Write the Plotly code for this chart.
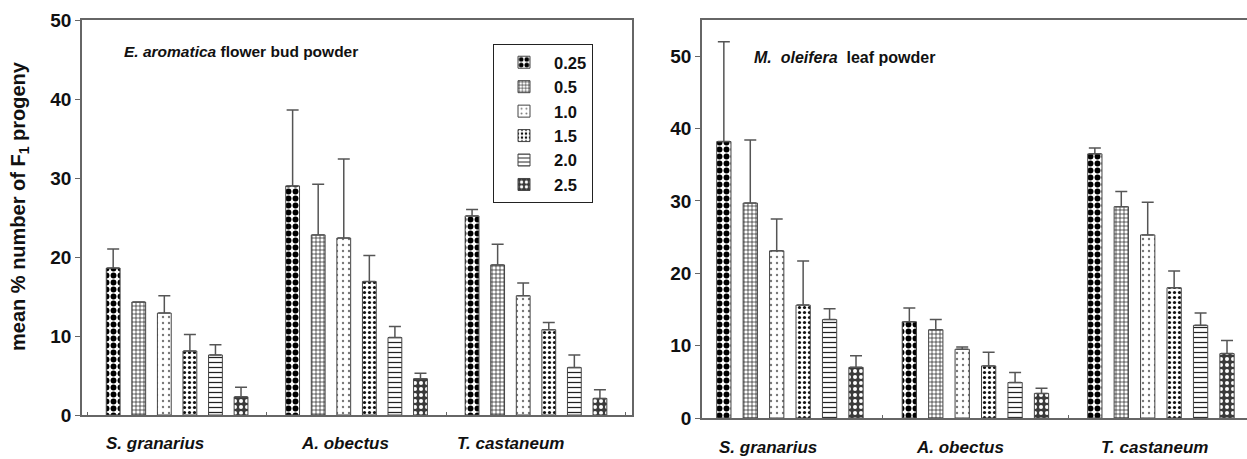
import plotly.graph_objects as go

W, H = 1247, 459

categories = ["S. granarius", "A. obectus", "T. castaneum"]
concentrations = ["0.25", "0.5", "1.0", "1.5", "2.0", "2.5"]

# E. aromatica flower bud powder (left panel): mean and upper error per concentration
ea_sgran_mean = [18.6, 14.3, 12.9, 8.1, 7.6, 2.3]
ea_sgran_err = [2.4, 0.0, 2.2, 2.1, 1.3, 1.2]
ea_aob_mean = [29.0, 22.8, 22.4, 16.9, 9.8, 4.6]
ea_aob_err = [9.6, 6.4, 10.0, 3.3, 1.4, 0.7]
ea_tcast_mean = [25.2, 19.0, 15.1, 10.8, 6.0, 2.1]
ea_tcast_err = [0.8, 2.6, 1.6, 0.9, 1.6, 1.1]

# M. oleifera leaf powder (right panel)
mo_sgran_mean = [38.2, 29.7, 23.1, 15.6, 13.6, 7.0]
mo_sgran_err = [13.8, 8.7, 4.4, 6.1, 1.5, 1.6]
mo_aob_mean = [13.3, 12.2, 9.5, 7.2, 4.9, 3.4]
mo_aob_err = [1.9, 1.4, 0.3, 1.9, 1.4, 0.7]
mo_tcast_mean = [36.5, 29.2, 25.3, 18.0, 12.8, 8.9]
mo_tcast_err = [0.8, 2.1, 4.5, 2.3, 1.7, 1.8]

left_ticks = [0, 10, 20, 30, 40, 50]
right_ticks = [0, 10, 20, 30, 40, 50]

patterns = [
    dict(shape=".", fgcolor="black", bgcolor="white", size=7, solidity=0.55, fillmode="replace"),
    dict(shape="+", fgcolor="#111", bgcolor="white", size=4, solidity=0.3, fillmode="replace"),
    dict(shape=".", fgcolor="#777", bgcolor="white", size=6, solidity=0.12, fillmode="replace"),
    dict(shape=".", fgcolor="#111", bgcolor="white", size=5, solidity=0.32, fillmode="replace"),
    dict(shape="-", fgcolor="#222", bgcolor="white", size=5, solidity=0.25, fillmode="replace"),
    dict(shape=".", fgcolor="white", bgcolor="#3a3a3a", size=6, solidity=0.35, fillmode="replace"),
]

FONT = "Liberation Sans, Arial, sans-serif"
AXC = "#666"
TXT = "#111"

fig = go.Figure()

panels = [
    ("x", "y", (ea_sgran_mean, ea_aob_mean, ea_tcast_mean), (ea_sgran_err, ea_aob_err, ea_tcast_err), True),
    ("x2", "y2", (mo_sgran_mean, mo_aob_mean, mo_tcast_mean), (mo_sgran_err, mo_aob_err, mo_tcast_err), False),
]
for xa, ya, means, errs, show in panels:
    for i, c in enumerate(concentrations):
        fig.add_trace(go.Bar(
            x=categories,
            y=[m[i] for m in means],
            name=c,
            legendgroup=c,
            showlegend=show,
            xaxis=xa, yaxis=ya,
            marker=dict(color="white", line=dict(color="#444", width=1), pattern=patterns[i]),
            error_y=dict(type="data", symmetric=False,
                         array=[e[i] for e in errs], arrayminus=[0, 0, 0],
                         color="#555", thickness=1.5, width=6),
        ))


def px_x(p):
    return p / W


def px_y(p):
    return 1 - p / H


common_x = dict(type="category", showline=True, linecolor=AXC, linewidth=1.5, mirror=True,
                ticks="inside", tickson="boundaries", ticklen=3, tickcolor=AXC,
                showgrid=False, zeroline=False, showticklabels=False, automargin=False)
common_y = dict(showline=True, linecolor=AXC, linewidth=1.5, ticks="outside", ticklen=5,
                tickcolor=AXC, showgrid=False, zeroline=False, automargin=False,
                tickfont=dict(family=FONT, size=19, color=TXT, weight="bold"))

# category labels (slightly left of group centres, as in the original)
label_shift_left = [-22, -12, -26]
label_shift_right = [-22, -15, -6]
annotations = []
for cat, sh in zip(categories, label_shift_left):
    annotations.append(dict(text=f"<b><i>{cat}</i></b>", x=cat, xref="x", y=px_y(443), yref="paper",
                            xshift=sh, showarrow=False, xanchor="center", yanchor="middle",
                            font=dict(family=FONT, size=17, color=TXT)))
for cat, sh in zip(categories, label_shift_right):
    annotations.append(dict(text=f"<b><i>{cat}</i></b>", x=cat, xref="x2", y=px_y(447), yref="paper",
                            xshift=sh, showarrow=False, xanchor="center", yanchor="middle",
                            font=dict(family=FONT, size=17, color=TXT)))

annotations += [
    dict(text="<b><i>E. aromatica</i> flower bud powder</b>", x=px_x(122), y=px_y(52),
         xref="paper", yref="paper", xanchor="left", yanchor="middle", showarrow=False,
         font=dict(family=FONT, size=15.5, color=TXT)),
    dict(text="<b><i>M.&nbsp; oleifera</i>&nbsp; leaf powder</b>", x=px_x(752), y=px_y(57),
         xref="paper", yref="paper", xanchor="left", yanchor="middle", showarrow=False,
         font=dict(family=FONT, size=16, color=TXT)),
    dict(text="<b>mean % number of F<sub>1</sub> progeny</b>", x=px_x(19), y=px_y(206),
         xref="paper", yref="paper", xanchor="center", yanchor="middle", showarrow=False,
         textangle=-90, font=dict(family=FONT, size=20, color=TXT)),
]

fig.update_layout(
    width=W, height=H,
    margin=dict(l=0, r=0, t=0, b=0, pad=0, autoexpand=False),
    paper_bgcolor="white", plot_bgcolor="white",
    barmode="group", bargap=0.145, bargroupgap=0.46,
    xaxis=dict(domain=[px_x(82), px_x(632)], range=[-0.53, 2.535], anchor="y", **common_x),
    yaxis=dict(domain=[px_y(415), px_y(20)], range=[0, 50], tickvals=left_ticks, mirror=True,
               anchor="x", **common_y),
    xaxis2=dict(domain=[px_x(702), 1.0], range=[-0.474, 2.464], anchor="y2", **common_x),
    yaxis2=dict(domain=[px_y(418), px_y(20)], range=[0, 55], tickvals=right_ticks, mirror=False,
                anchor="x2", **common_y),
    legend=dict(x=px_x(493), y=px_y(44), xanchor="left", yanchor="top",
                bordercolor="#222", borderwidth=1, bgcolor="white", itemwidth=50,
                font=dict(family=FONT, size=16.5, color=TXT, weight="bold"),
                traceorder="normal"),
    font=dict(family=FONT, color=TXT),
    annotations=annotations,
)

fig.write_html(
    "out.html",
    config={"displayModeBar": False},
    post_script="document.body.style.margin='0';document.body.style.overflow='hidden';",
)
